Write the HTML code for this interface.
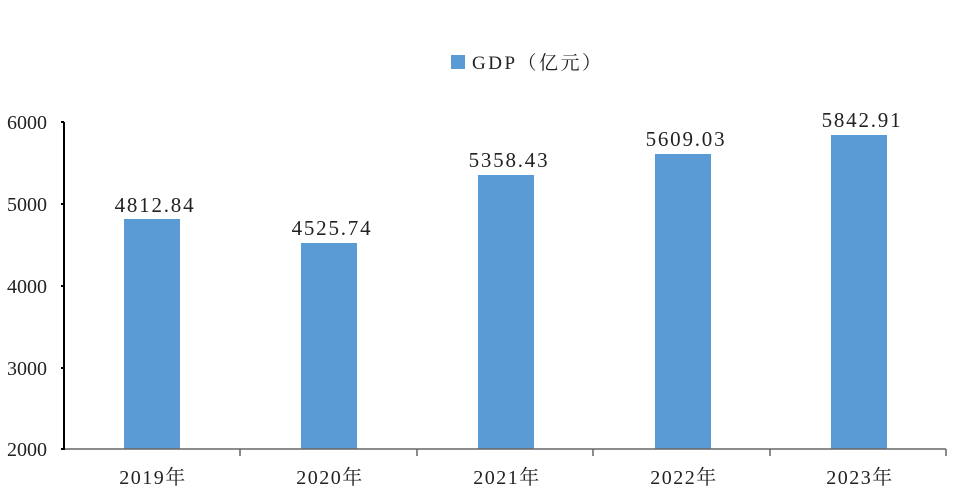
<!DOCTYPE html>
<html><head><meta charset="utf-8"><style>
body{margin:0;background:#fff;}
svg text{font-family:"Liberation Serif","Noto Serif CJK SC",serif;fill:#222;}
</style></head><body>
<svg width="970" height="490" xmlns="http://www.w3.org/2000/svg">
<rect x="451" y="55" width="14" height="14" fill="#5b9bd5"/>
<text x="472" y="69" font-size="19" letter-spacing="2.5">GDP（亿元）</text>
<g font-size="20" text-anchor="end">
<text x="47" y="129">6000</text>
<text x="47" y="211">5000</text>
<text x="47" y="293">4000</text>
<text x="47" y="375">3000</text>
<text x="47" y="456">2000</text>
</g>
<g fill="#5b9bd5">
<rect x="124" y="219" width="56" height="230"/>
<rect x="301" y="243" width="56" height="206"/>
<rect x="478" y="175" width="56" height="274"/>
<rect x="655" y="154" width="56" height="295"/>
<rect x="831" y="135" width="56" height="314"/>
</g>
<g font-size="21" text-anchor="middle" letter-spacing="1.8">
<text x="155" y="212">4812.84</text>
<text x="332" y="235">4525.74</text>
<text x="509" y="167">5358.43</text>
<text x="686" y="146">5609.03</text>
<text x="862" y="127">5842.91</text>
</g>
<line x1="64" y1="449" x2="946" y2="449" stroke="#666" stroke-width="1.5"/>
<g stroke="#666" stroke-width="1.5">
<line x1="240" y1="449" x2="240" y2="456"/><line x1="417" y1="449" x2="417" y2="456"/>
<line x1="593" y1="449" x2="593" y2="456"/><line x1="770" y1="449" x2="770" y2="456"/>
<line x1="946" y1="449" x2="946" y2="456"/>
</g>
<g stroke="#000" stroke-width="2">
<line x1="64" y1="122" x2="64" y2="450"/>
<line x1="61" y1="122" x2="64" y2="122"/><line x1="61" y1="204" x2="64" y2="204"/>
<line x1="61" y1="286" x2="64" y2="286"/><line x1="61" y1="368" x2="64" y2="368"/>
<line x1="61" y1="449" x2="64" y2="449"/>
</g>
<g font-size="20" text-anchor="middle" letter-spacing="1.5">
<text x="153" y="484">2019年</text>
<text x="330" y="484">2020年</text>
<text x="507" y="484">2021年</text>
<text x="684" y="484">2022年</text>
<text x="860" y="484">2023年</text>
</g>
</svg>
</body></html>
